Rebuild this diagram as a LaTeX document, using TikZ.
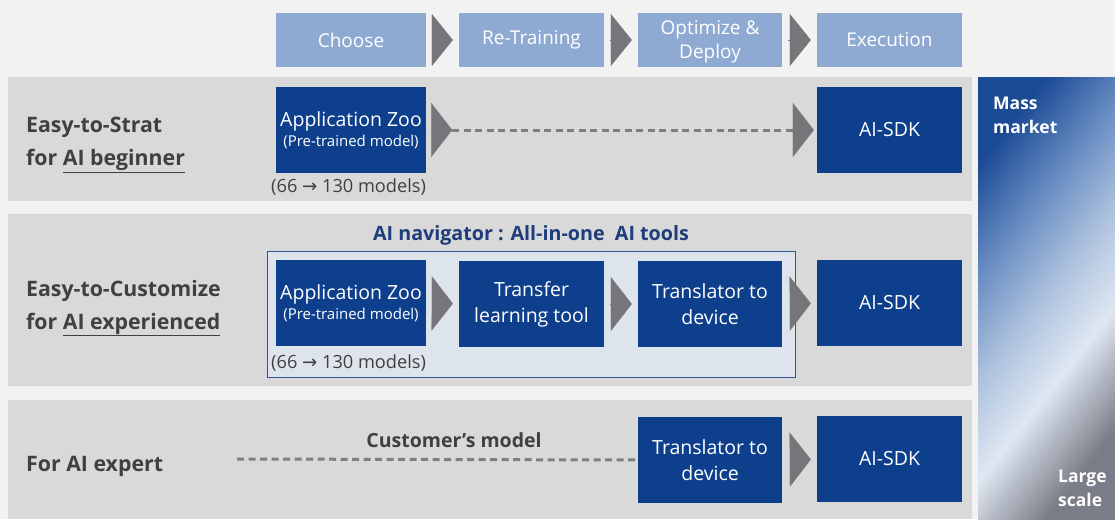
\documentclass[tikz,border=0pt]{standalone}
\usepackage{fontspec}
\setmainfont{Open Sans}
\newfontfamily\symfont{DejaVu Sans}
\usetikzlibrary{positioning,calc,arrows.meta}

\definecolor{pagegray}{HTML}{F2F2F2}
\definecolor{bandgray}{HTML}{D9D9D9}
\definecolor{boxblue}{HTML}{0D3F8C}
\definecolor{hdrblue}{HTML}{8EAAD2}
\definecolor{chevgray}{HTML}{75757A}
\definecolor{dashgray}{HTML}{7F7F7F}
\definecolor{labelgray}{HTML}{404040}
\definecolor{navblue}{HTML}{1F3D7A}
\definecolor{navfill}{HTML}{DEE4EC}
\definecolor{navline}{HTML}{2F5597}
\definecolor{massblue}{HTML}{1C4B96}
\definecolor{midblue}{HTML}{6A8EC3}
\definecolor{paleblue}{HTML}{AFC3DE}
\definecolor{glow}{HTML}{DFE7F2}
\definecolor{scalegray}{HTML}{7A7D88}

\pgfdeclareverticalshading{scalebar}{100bp}{%
  color(0bp)=(scalegray); color(25bp)=(scalegray); color(39bp)=(glow);
  color(50bp)=(paleblue); color(62bp)=(midblue); color(75bp)=(massblue); color(100bp)=(massblue)}

\tikzset{
  band/.style     = {fill=bandgray, draw=none},
  hdr/.style      = {fill=hdrblue, text=white, minimum height=53pt, inner sep=0pt, align=center, font=\fontsize{19}{24}\selectfont},
  box/.style      = {fill=boxblue, text=white, minimum height=86pt, inner sep=0pt, align=center, font=\fontsize{19.5}{26}\selectfont},
  rowlbl/.style   = {anchor=west, align=left, text=labelgray, font=\fontsize{21.3}{33}\selectfont\bfseries, inner sep=0pt},
  count/.style    = {anchor=west, text=labelgray, font=\fontsize{18.2}{20}\selectfont, inner sep=0pt},
  navframe/.style = {fill=navfill, draw=navline, line width=0.8pt},
  navtitle/.style = {text=navblue, font=\fontsize{19.7}{22}\selectfont\bfseries, inner sep=0pt},
  custlbl/.style  = {text=labelgray, font=\fontsize{19.5}{22}\selectfont\bfseries, inner sep=0pt},
  sidelbl/.style  = {anchor=north west, align=left, text=white, font=\fontsize{17.5}{24}\selectfont\bfseries, inner sep=0pt},
  chevron/.style  = {draw=chevgray, line width=0.1pt, shorten <=6pt, shorten >=6pt,
                     -{Triangle[length=21pt, width=#1]}},
  chevron/.default = 54pt,
  dashline/.style = {draw=dashgray, line width=3pt, dash pattern=on 7pt off 4.5pt},
}

\begin{document}
\begin{tikzpicture}[x=1pt,y=-1pt]
  \useasboundingbox (0,0) rectangle (1115,519);
  \fill[pagegray] (0,0) rectangle (1115,519);

  % ----- bands -----
  \fill[band] (8,77) rectangle (972,201);
  \fill[band] (8,214) rectangle (972,386);
  \fill[band] (8,400) rectangle (972,519);

  % ----- right side scale bar -----
  \shade[shading=scalebar, shading angle=52] (978,77) rectangle (1115,519);
  \node[sidelbl] (mass) at (993,97) {Mass\\market};
  \node[sidelbl] (large) at (1058,470) {Large\\scale};

  % ----- header steps -----
  \node[hdr, minimum width=150pt] (h1) at (351,40) {Choose};
  \node[hdr, minimum width=145pt] (h2) at (531.5,40) {Re-Training};
  \node[hdr, minimum width=144pt, text depth=0pt] (h3) at (710,40) {Optimize \&\\Deploy};
  \node[hdr, minimum width=145pt] (h4) at (889.5,40) {Execution};
  \draw[chevron=52pt] (h1) -- (h2);
  \draw[chevron=52pt] (h2) -- (h3);
  \draw[chevron=52pt] (h3) -- (h4);

  % ----- row 1 : beginner -----
  \node[rowlbl] (lbl1) at (26,145) {Easy-to-Strat\\for \underline{AI beginner}};
  \node[box, minimum width=150pt] (zoo1) at (351,130) {Application Zoo\\[-6pt]{\fontsize{15}{16}\selectfont (Pre-trained model)}};
  \node[box, minimum width=145pt] (sdk1) at (889.5,130) {AI-SDK};
  \node[count] (cnt1) at (271,187) {(66 {\symfont →} 130 models)};
  \coordinate (d1) at ($(zoo1.east)+(26,0)$);
  \draw[chevron, shorten >=0pt] (zoo1.east) -- (d1);
  \draw[dashline, shorten >=3pt,
        -{Triangle[length=21pt, width=54pt, color=chevgray, line width=0.1pt]}] (d1) -- (sdk1.west);

  % ----- row 2 : experienced -----
  \node[rowlbl] (lbl2) at (26,308) {Easy-to-Customize\\for \underline{AI experienced}};
  \node[navtitle] (navt) at (531,235) {AI navigator : All-in-one\ \ AI tools};
  \node[navframe, minimum width=528pt, minimum height=126pt] (nav) at (531,314) {};
  \node[box, minimum width=150pt] (zoo2) at (351,303) {Application Zoo\\[-6pt]{\fontsize{15}{16}\selectfont (Pre-trained model)}};
  \node[box, minimum width=145pt] (tl2) at (531.5,304) {Transfer\\learning tool};
  \node[box, minimum width=144pt] (tr2) at (710,304) {Translator to\\device};
  \node[box, minimum width=145pt] (sdk2) at (889.5,303) {AI-SDK};
  \node[count] (cnt2) at (271,363) {(66 {\symfont →} 130 models)};
  \draw[chevron] (zoo2) -- (tl2);
  \draw[chevron] (tl2) -- (tr2);
  \draw[chevron] (tr2) -- (sdk2);

  % ----- row 3 : expert -----
  \node[rowlbl] (lbl3) at (26,466) {For AI expert};
  \node[custlbl] (cust) at (454,440) {Customer’s model};
  \node[box, minimum width=144pt] (tr3) at (710,460) {Translator to\\device};
  \node[box, minimum width=145pt] (sdk3) at (889.5,459) {AI-SDK};
  \coordinate (c3) at (237,459);
  \draw[dashline] (c3) -- (tr3.west);
  \draw[chevron] (tr3) -- (sdk3);
\end{tikzpicture}
\end{document}
